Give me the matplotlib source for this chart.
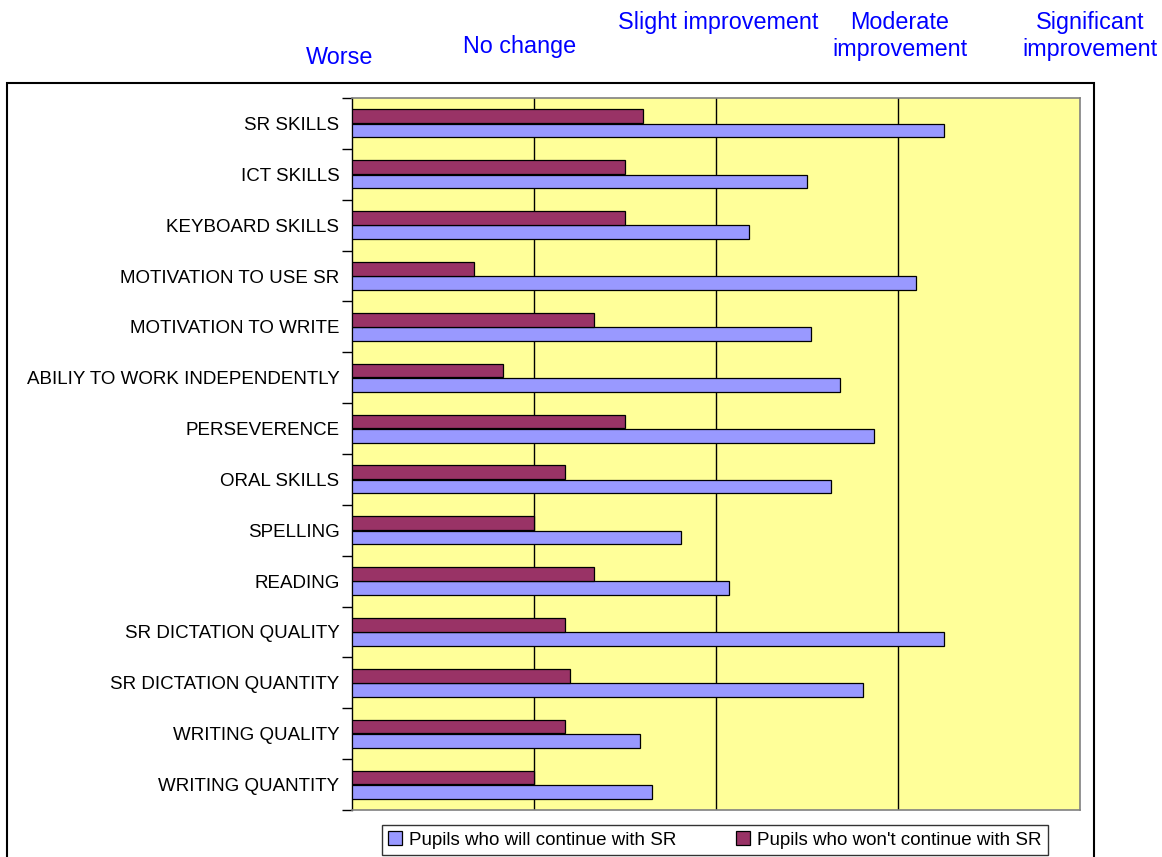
import numpy as np
import matplotlib
matplotlib.use('Agg')
import matplotlib.pyplot as plt
from matplotlib.patches import Rectangle

plt.rcParams['font.family'] = ['Liberation Sans', 'DejaVu Sans']

categories = ['SR SKILLS', 'ICT SKILLS', 'KEYBOARD SKILLS', 'MOTIVATION TO USE SR',
              'MOTIVATION TO WRITE', 'ABILIY TO WORK INDEPENDENTLY', 'PERSEVERENCE',
              'ORAL SKILLS', 'SPELLING', 'READING', 'SR DICTATION QUALITY',
              'SR DICTATION QUANTITY', 'WRITING QUALITY', 'WRITING QUANTITY']
will_continue = [3.25, 2.5, 2.18, 3.1, 2.52, 2.68, 2.87, 2.63, 1.81, 2.07, 3.25, 2.81, 1.58, 1.65]
wont_continue = [1.6, 1.5, 1.5, 0.67, 1.33, 0.83, 1.5, 1.17, 1.0, 1.33, 1.17, 1.2, 1.17, 1.0]
scale_labels = ['Worse', 'No change', 'Slight improvement',
                'Moderate\nimprovement', 'Significant\nimprovement']

BLUE = '#9999FF'
RED = '#993366'
BG = '#FFFF99'

fig = plt.figure(figsize=(11.62, 8.57), dpi=100)
fig.patch.set_facecolor('white')

# outer chart border
fig.patches.append(Rectangle((7 / 1162, -0.01), (1094 - 7) / 1162, 1 - 83 / 857 + 0.01,
                             transform=fig.transFigure, fill=False,
                             edgecolor='black', linewidth=1.5))

ax = fig.add_axes([352 / 1162, 1 - 810 / 857, (1080 - 352) / 1162, (810 - 98) / 857])
ax.set_facecolor(BG)

y = np.arange(len(categories))
h = 0.27
ax.barh(y + h / 2 + 0.005, will_continue, height=h, color=BLUE, edgecolor='black',
        linewidth=0.9, label='Pupils who will continue with SR', zorder=3)
ax.barh(y - h / 2 - 0.005, wont_continue, height=h, color=RED, edgecolor='black',
        linewidth=0.9, label="Pupils who won't continue with SR", zorder=3)

ax.set_xlim(0, 4)
ax.set_ylim(len(categories) - 0.5, -0.5)
ax.set_xticks([1, 2, 3])
ax.set_xticklabels([])
ax.tick_params(axis='x', length=0)
ax.grid(axis='x', color='black', linewidth=1, zorder=1)

ax.set_yticks(y)
ax.set_yticklabels(categories, fontsize=13.5)
ax.tick_params(axis='y', which='major', length=0, pad=9)
ax.set_yticks(np.arange(len(categories) + 1) - 0.5, minor=True)
ax.tick_params(axis='y', which='minor', length=7, width=1, color='black')

for s in ['top', 'right', 'bottom']:
    ax.spines[s].set_color('#808080')
    ax.spines[s].set_linewidth(1.2)
ax.spines['left'].set_color('black')
ax.spines['left'].set_linewidth(1)

# scale labels above the chart
label_pos = [(340, 58), (520, 47), (718, 22), (900, 36), (1090, 36)]
for lab, (px, py) in zip(scale_labels, label_pos):
    fig.text(px / 1162, 1 - py / 857, lab, color='#0000FF', fontsize=16.8,
             ha='center', va='center', linespacing=1.25)

handles, labels = ax.get_legend_handles_labels()
leg = fig.legend(handles, labels, loc='center', ncol=2,
                 bbox_to_anchor=(715 / 1162, 1 - 840 / 857), fontsize=13.5,
                 frameon=True, fancybox=False, edgecolor='black',
                 handlelength=0.7, handleheight=0.7, columnspacing=3.2,
                 handletextpad=0.4, borderpad=0.35, borderaxespad=0.2)
leg.get_frame().set_linewidth(1)

fig.savefig('out.png', dpi=100)
